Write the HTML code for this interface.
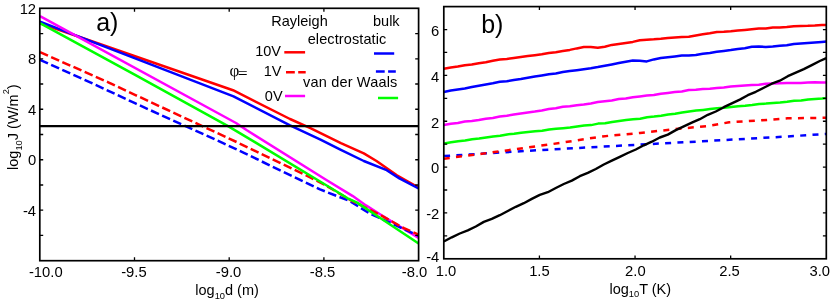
<!DOCTYPE html>
<html><head><meta charset="utf-8"><title>figure</title>
<style>
html,body{margin:0;padding:0;background:#fff;}
body{width:830px;height:303px;overflow:hidden;}
svg{display:block;font-family:"Liberation Sans",sans-serif;fill:#000;will-change:transform;transform:translateZ(0);}
</style></head><body>
<svg width="830" height="303" viewBox="0 0 830 303">
<defs><clipPath id="ca"><rect x="39.8" y="8.3" width="379.8" height="252.4"/></clipPath>
<clipPath id="cb"><rect x="443.8" y="6.6" width="383.5" height="252.2"/></clipPath></defs>
<polyline points="40.0,23.3 233.0,90.2 290.0,119.0 310.4,128.2 340.9,143.2 363.8,153.4 376.5,161.0 396.9,175.3 418.6,187.6" fill="none" stroke="#ff0000" stroke-width="2.5" stroke-linejoin="round" clip-path="url(#ca)"/>
<polyline points="40.0,21.6 233.5,96.4 290.0,125.4 320.5,139.6 340.9,149.8 363.8,161.0 386.7,170.2 399.4,178.4 418.6,188.5" fill="none" stroke="#0000ff" stroke-width="2.5" stroke-linejoin="round" clip-path="url(#ca)"/>
<polyline points="40.0,16.2 236.0,123.0 246.5,130.0 326.4,180.0 352.8,196.1 366.0,205.4 379.2,213.8 418.6,238.0" fill="none" stroke="#ff00ff" stroke-width="2.5" stroke-linejoin="round" clip-path="url(#ca)"/>
<polyline points="40.0,59.9 90.2,82.3 136.0,103.7 223.1,143.1 243.9,152.9 320.0,189.4 349.7,201.0 369.5,213.4 418.6,235.8" fill="none" stroke="#0000ff" stroke-width="2.5" stroke-linejoin="round" stroke-dasharray="8.7 3.5" clip-path="url(#ca)"/>
<polyline points="40.0,52.2 108.3,82.3 136.0,95.3 237.2,142.3 309.6,177.1 324.8,184.8 350.0,199.8 381.9,215.8 404.0,228.2 418.6,234.6" fill="none" stroke="#ff0000" stroke-width="2.5" stroke-linejoin="round" stroke-dasharray="8.7 3.5" clip-path="url(#ca)"/>
<polyline points="40.0,23.1 136.0,75.3 227.6,125.9 255.3,142.3 324.6,184.3 336.2,191.3 347.7,198.3 357.1,202.6 384.4,220.8 418.6,243.5" fill="none" stroke="#00ff00" stroke-width="2.5" stroke-linejoin="round" clip-path="url(#ca)"/>
<polyline points="39.8,126.1 418.6,126.1" fill="none" stroke="#000000" stroke-width="2.2" stroke-linejoin="round"/>
<polyline points="444.1,143.4 451.1,142.3 458.1,141.2 465.1,140.6 472.1,139.3 479.1,138.6 486.1,137.5 493.1,136.4 500.1,135.7 507.1,134.4 514.1,133.7 521.1,132.7 528.1,131.9 535.1,131.3 542.1,130.8 549.1,129.5 556.1,128.7 563.1,128.2 570.1,127.6 577.1,126.5 584.1,125.6 591.1,125.1 598.1,123.6 605.1,123.2 612.1,121.9 619.1,120.9 626.1,120.0 633.1,119.3 640.1,118.7 647.1,117.3 654.1,116.6 661.1,115.7 668.1,114.5 675.1,113.7 682.1,112.4 689.1,111.4 696.1,110.6 703.1,109.9 710.1,109.1 717.1,108.3 724.1,107.8 731.1,107.0 738.1,106.2 745.1,105.8 752.1,105.1 759.1,104.1 766.1,103.6 773.1,102.9 780.1,102.4 787.1,101.7 794.1,100.8 801.1,100.6 808.1,99.4 815.1,98.9 822.1,98.5 826.6,97.9" fill="none" stroke="#00ff00" stroke-width="2.5" stroke-linejoin="round" clip-path="url(#cb)"/>
<polyline points="443.8,125.0 450.8,123.7 457.8,122.9 464.8,121.5 471.8,120.9 478.8,119.9 485.8,118.7 492.8,117.9 499.8,116.5 506.8,115.7 513.8,114.6 520.8,113.5 527.8,112.4 534.8,111.6 541.8,110.5 548.8,109.1 555.8,108.2 562.8,106.7 569.8,106.2 576.8,105.2 583.8,104.5 590.8,103.4 597.8,102.1 604.8,101.3 611.8,100.5 618.8,99.1 625.8,98.5 632.8,97.3 639.8,96.4 646.8,95.5 653.8,95.0 660.8,93.7 667.8,92.9 674.8,92.1 681.8,91.5 688.8,90.1 695.8,89.7 702.8,89.1 709.8,88.8 716.8,88.1 723.8,87.5 730.8,86.6 737.8,86.0 744.8,85.4 751.8,85.1 758.8,84.7 765.8,83.8 772.8,83.5 779.8,83.2 786.8,82.9 793.8,82.9 800.8,82.9 807.8,82.6 814.8,82.3 821.8,82.5 826.6,82.5" fill="none" stroke="#ff00ff" stroke-width="2.5" stroke-linejoin="round" clip-path="url(#cb)"/>
<polyline points="444.1,156.1 500.2,152.5 560.5,148.9 640.0,144.6 702.3,141.3 774.6,137.2 826.6,134.0" fill="none" stroke="#0000ff" stroke-width="2.5" stroke-linejoin="round" stroke-dasharray="6 6.3" clip-path="url(#cb)"/>
<polyline points="443.8,158.7 500.2,151.3 560.5,142.9 602.3,136.4 640.0,133.0 673.9,129.2 706.4,126.2 729.2,122.3 761.7,120.3 787.7,118.3 826.6,117.8" fill="none" stroke="#ff0000" stroke-width="2.5" stroke-linejoin="round" stroke-dasharray="6 6.3" clip-path="url(#cb)"/>
<polyline points="443.8,92.0 450.8,90.6 457.8,89.5 464.8,88.5 471.8,87.0 478.8,85.7 485.8,84.4 492.8,83.3 499.8,81.8 506.8,81.2 513.8,80.0 520.8,79.0 527.8,77.8 534.8,76.5 541.8,75.4 548.8,74.2 555.8,73.5 562.8,72.1 569.8,71.1 576.8,70.2 583.8,69.2 590.8,68.3 597.8,67.1 604.8,65.7 611.8,64.4 618.8,63.0 625.8,61.8 632.8,60.5 639.8,60.7 646.8,61.4 653.8,59.4 660.8,58.1 667.8,57.3 674.8,56.4 681.8,55.5 688.8,55.6 695.8,54.9 702.8,53.7 709.8,52.9 716.8,51.8 723.8,50.9 730.8,50.0 737.8,48.9 744.8,48.3 751.8,46.8 758.8,46.5 765.8,47.0 772.8,46.5 779.8,45.7 786.8,45.2 793.8,44.0 800.8,43.6 807.8,43.1 814.8,42.6 821.8,42.0 826.6,41.6" fill="none" stroke="#0000ff" stroke-width="2.5" stroke-linejoin="round" clip-path="url(#cb)"/>
<polyline points="443.8,68.8 450.8,67.5 457.8,66.5 464.8,65.2 471.8,64.5 478.8,63.2 485.8,62.2 492.8,60.8 499.8,59.6 506.8,58.9 513.8,57.9 520.8,57.0 527.8,56.1 534.8,55.2 541.8,54.3 548.8,53.0 555.8,52.2 562.8,51.1 569.8,49.9 576.8,48.4 583.8,47.1 590.8,47.1 597.8,47.8 604.8,46.7 611.8,44.9 618.8,44.0 625.8,43.0 632.8,41.9 639.8,40.3 646.8,39.7 653.8,39.3 660.8,38.7 667.8,37.9 674.8,37.4 681.8,37.0 688.8,36.7 695.8,35.4 702.8,34.3 709.8,33.2 716.8,31.9 723.8,31.7 730.8,31.3 737.8,30.6 744.8,30.0 751.8,29.3 758.8,28.5 765.8,28.4 772.8,27.5 779.8,27.4 786.8,27.1 793.8,26.3 800.8,25.9 807.8,25.8 814.8,25.5 821.8,25.0 826.6,25.1" fill="none" stroke="#ff0000" stroke-width="2.5" stroke-linejoin="round" clip-path="url(#cb)"/>
<polyline points="443.8,241.5 451.8,237.3 459.8,233.5 467.8,230.4 475.8,226.5 483.8,221.9 491.8,218.9 499.8,215.2 507.8,211.0 515.8,206.8 523.8,203.2 531.8,198.9 539.8,194.9 547.8,192.2 555.8,188.0 563.8,184.0 571.8,180.6 579.8,176.2 587.8,172.9 595.8,169.0 603.8,164.5 611.8,160.7 619.8,156.9 627.8,153.0 635.8,149.5 643.8,145.3 651.8,141.7 659.8,137.5 667.8,134.6 675.8,130.1 683.8,126.4 691.8,122.7 699.8,119.2 707.8,114.8 715.8,111.5 723.8,107.2 731.8,103.4 739.8,99.6 747.8,95.2 755.8,91.8 763.8,87.7 771.8,83.7 779.8,80.7 787.8,76.2 795.8,72.7 803.8,69.1 811.8,65.1 819.8,61.0 826.3,58.1" fill="none" stroke="#000000" stroke-width="2.4" stroke-linejoin="round" clip-path="url(#cb)"/>
<rect x="39.80" y="8.30" width="378.80" height="252.40" fill="none" stroke="#000" stroke-width="1.7"/>
<rect x="443.80" y="6.60" width="382.50" height="252.20" fill="none" stroke="#000" stroke-width="1.7"/>
<path d="M39.80 235.46L43.20 235.46M418.60 235.46L415.20 235.46M39.80 210.22L43.20 210.22M418.60 210.22L415.20 210.22M39.80 184.98L43.20 184.98M418.60 184.98L415.20 184.98M39.80 159.74L43.20 159.74M418.60 159.74L415.20 159.74M39.80 134.50L43.20 134.50M418.60 134.50L415.20 134.50M39.80 109.26L43.20 109.26M418.60 109.26L415.20 109.26M39.80 84.02L43.20 84.02M418.60 84.02L415.20 84.02M39.80 58.78L43.20 58.78M418.60 58.78L415.20 58.78M39.80 33.54L43.20 33.54M418.60 33.54L415.20 33.54M134.50 260.70L134.50 257.30M134.50 8.30L134.50 11.70M229.20 260.70L229.20 257.30M229.20 8.30L229.20 11.70M323.90 260.70L323.90 257.30M323.90 8.30L323.90 11.70M443.80 235.87L447.20 235.87M826.30 235.87L822.90 235.87M443.80 212.95L447.20 212.95M826.30 212.95L822.90 212.95M443.80 190.02L447.20 190.02M826.30 190.02L822.90 190.02M443.80 167.09L447.20 167.09M826.30 167.09L822.90 167.09M443.80 144.16L447.20 144.16M826.30 144.16L822.90 144.16M443.80 121.24L447.20 121.24M826.30 121.24L822.90 121.24M443.80 98.31L447.20 98.31M826.30 98.31L822.90 98.31M443.80 75.38L447.20 75.38M826.30 75.38L822.90 75.38M443.80 52.45L447.20 52.45M826.30 52.45L822.90 52.45M443.80 29.53L447.20 29.53M826.30 29.53L822.90 29.53M539.42 258.80L539.42 255.40M539.42 6.60L539.42 10.00M635.05 258.80L635.05 255.40M635.05 6.60L635.05 10.00M730.67 258.80L730.67 255.40M730.67 6.60L730.67 10.00" stroke="#000" stroke-width="1.3" fill="none"/>
<text transform="translate(36.10,13.80) scale(1,1.04)" font-size="14.8" text-anchor="end" >12</text>
<text transform="translate(36.10,64.28) scale(1,1.04)" font-size="14.8" text-anchor="end" >8</text>
<text transform="translate(36.10,114.76) scale(1,1.04)" font-size="14.8" text-anchor="end" >4</text>
<text transform="translate(36.10,165.24) scale(1,1.04)" font-size="14.8" text-anchor="end" >0</text>
<text transform="translate(36.10,215.72) scale(1,1.04)" font-size="14.8" text-anchor="end" >-4</text>
<text transform="translate(45.80,276.70) scale(1,1.04)" font-size="14.8" text-anchor="middle" >-10.0</text>
<text transform="translate(133.90,276.70) scale(1,1.04)" font-size="14.8" text-anchor="middle" >-9.5</text>
<text transform="translate(228.60,276.70) scale(1,1.04)" font-size="14.8" text-anchor="middle" >-9.0</text>
<text transform="translate(322.60,276.70) scale(1,1.04)" font-size="14.8" text-anchor="middle" >-8.5</text>
<text transform="translate(414.60,276.70) scale(1,1.04)" font-size="14.8" text-anchor="middle" >-8.0</text>
<text transform="translate(439.30,36.13) scale(1,1.04)" font-size="14.8" text-anchor="end" >6</text>
<text transform="translate(439.30,81.88) scale(1,1.04)" font-size="14.8" text-anchor="end" >4</text>
<text transform="translate(439.30,127.64) scale(1,1.04)" font-size="14.8" text-anchor="end" >2</text>
<text transform="translate(439.30,173.09) scale(1,1.04)" font-size="14.8" text-anchor="end" >0</text>
<text transform="translate(439.30,219.15) scale(1,1.04)" font-size="14.8" text-anchor="end" >-2</text>
<text transform="translate(439.30,262.20) scale(1,1.04)" font-size="14.8" text-anchor="end" >-4</text>
<text transform="translate(446.00,275.90) scale(1,1.04)" font-size="14.8" text-anchor="middle" >1.0</text>
<text transform="translate(539.42,275.90) scale(1,1.04)" font-size="14.8" text-anchor="middle" >1.5</text>
<text transform="translate(635.35,275.90) scale(1,1.04)" font-size="14.8" text-anchor="middle" >2.0</text>
<text transform="translate(729.47,275.90) scale(1,1.04)" font-size="14.8" text-anchor="middle" >2.5</text>
<text transform="translate(819.80,275.90) scale(1,1.04)" font-size="14.8" text-anchor="middle" >3.0</text>
<text x="227.10" y="295.10" font-size="14.5" text-anchor="middle" >log<tspan font-size="9.3" dy="3.4">10</tspan><tspan dy="-3.4">d (m)</tspan></text>
<text x="640.30" y="293.70" font-size="14.5" text-anchor="middle" >log<tspan font-size="9.3" dy="3.4">10</tspan><tspan dy="-3.4">T (K)</tspan></text>
<text font-size="14.5" text-anchor="middle" transform="translate(18.3,127.1) rotate(-90)">log<tspan font-size="9.3" dy="3.4">10</tspan><tspan dy="-3.4">J (W/m</tspan><tspan font-size="9.3" dy="-9.2">2</tspan><tspan dy="9.2">)</tspan></text>
<text x="96.20" y="30.50" font-size="25" text-anchor="start" >a)</text>
<text x="481.20" y="32.90" font-size="25" text-anchor="start" >b)</text>
<text x="271.30" y="26.10" font-size="14.5" text-anchor="start" >Rayleigh</text>
<text x="373.00" y="26.10" font-size="14.5" text-anchor="start" >bulk</text>
<text x="307.70" y="43.70" font-size="14.5" text-anchor="start" textLength="78.6">electrostatic</text>
<text x="281.00" y="56.40" font-size="14.5" text-anchor="end" >10V</text>
<text x="281.50" y="76.40" font-size="14.5" text-anchor="end" >1V</text>
<text x="282.60" y="101.10" font-size="14.5" text-anchor="end" >0V</text>
<text x="303.10" y="86.60" font-size="14.5" text-anchor="start" textLength="94.2">van der Waals</text>
<text x="229.45" y="76.4" font-size="17" font-family="Liberation Serif, serif">φ</text>
<text x="237.75" y="79.0" font-size="17.5" font-family="Liberation Serif, serif">=</text>
<polyline points="284.3,52.3 305.1,52.3" fill="none" stroke="#ff0000" stroke-width="2.5" stroke-linejoin="round"/>
<polyline points="374.0,53.5 394.2,53.5" fill="none" stroke="#0000ff" stroke-width="2.5" stroke-linejoin="round"/>
<polyline points="286.0,72.2 305.7,72.2" fill="none" stroke="#ff0000" stroke-width="2.5" stroke-linejoin="round" stroke-dasharray="8.8 3.4"/>
<polyline points="375.9,71.4 395.8,71.4" fill="none" stroke="#0000ff" stroke-width="2.5" stroke-linejoin="round" stroke-dasharray="8.8 3.4"/>
<polyline points="285.0,96.0 305.1,96.0" fill="none" stroke="#ff00ff" stroke-width="2.5" stroke-linejoin="round"/>
<polyline points="378.0,98.0 398.1,98.0" fill="none" stroke="#00ff00" stroke-width="2.5" stroke-linejoin="round"/>
</svg>
</body></html>
